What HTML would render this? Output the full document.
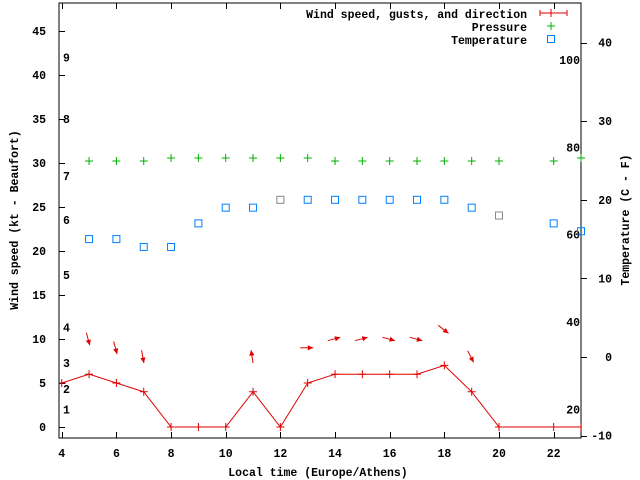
<!DOCTYPE html>
<html><head><meta charset="utf-8"><style>
html,body{margin:0;padding:0;background:#fff}
svg{display:block;font-family:"Liberation Mono",monospace;font-weight:bold;font-size:11.5px}
</style></head><body>
<svg id="chart" width="640" height="480" viewBox="0 0 640 480" xmlns="http://www.w3.org/2000/svg">
<rect x="0" y="0" width="640" height="480" fill="#fff"/>
<g id="grid"></g>
<g id="series"></g>
<text x="318" y="476" text-anchor="middle">Local time (Europe/Athens)</text>
<text transform="translate(18,220) rotate(-90)" text-anchor="middle">Wind speed (kt - Beaufort)</text>
<text transform="translate(629,220) rotate(-90)" text-anchor="middle">Temperature (C - F)</text>
<g>
<text x="527" y="18" text-anchor="end">Wind speed, gusts, and direction</text>
<g stroke="#e00000"><line x1="540" y1="13" x2="567" y2="13"/><line x1="540" y1="10" x2="540" y2="16"/><line x1="567" y1="10" x2="567" y2="16"/><line x1="551" y1="9" x2="551" y2="17"/></g>
<text x="527" y="31" text-anchor="end">Pressure</text>
<g stroke="#00b000"><line x1="547" y1="26" x2="555" y2="26"/><line x1="551" y1="22" x2="551" y2="30"/></g>
<text x="527" y="44" text-anchor="end">Temperature</text>
<rect x="547.5" y="35.5" width="7" height="7" fill="none" stroke="#0080ff"/>
</g>
</svg>
<script>
const hours=[4,5,6,7,8,9,10,11,12,13,14,15,16,17,18,19,20,22,23];
const windKt=[5,6,5,4,0,0,0,4,0,5,6,6,6,6,7,4,0,0,0];
const pressureHours=[5,6,7,8,9,10,11,12,13,14,15,16,17,18,19,20,22,23];
const pressureHpa=[1013,1013,1013,1014,1014,1014,1014,1014,1014,1013,1013,1013,1013,1013,1013,1013,1013,1014];
const tempHours=[5,6,7,8,9,10,11,12,13,14,15,16,17,18,19,20,22,23];
const tempC=[15,15,14,14,17,19,19,20,20,20,20,20,20,20,19,18,17,16];
const arrowHours=[5,6,7,11,13,14,15,16,17,18,19];
const arrowLevel=[10,9,8,8,9,10,10,10,10,11.1,8];
const arrowFromDeg=[345,345,350,171,270,255,255,285,285,308,333];
const xTicks=[4,6,8,10,12,14,16,18,20,22];
const yTicks=[0,5,10,15,20,25,30,35,40,45];
const cTicks=[-10,0,10,20,30,40];
const fTicks=[20,40,60,80,100];
const bftLabels=[1,2,3,4,5,6,7,8,9];
const bftKt=[2,4.3,7.3,11.3,17.3,23.5,28.5,35,42];

const L=59,R=581,T=3,B=438;
const X=h=>L+(h-3.9)*27.33;
const Y=k=>427-k*8.8;
const YC=c=>357-c*7.86;
const YF=f=>YC((f-32)*5/9);
const YP=p=>161-(p-1013)*3;
const NS="http://www.w3.org/2000/svg";
const grid=document.getElementById('grid'), ser=document.getElementById('series');
function mk(tag,attrs,parent,text){const e=document.createElementNS(NS,tag);for(const k in attrs)e.setAttribute(k,attrs[k]);if(text!==undefined)e.textContent=text;parent.appendChild(e);return e;}

const frame=mk('rect',{x:L,y:T,width:R-L,height:B-T,fill:'none',stroke:'#000'},grid);


xTicks.forEach(h=>{
  const x=Math.round(X(h))+0.5;
  const t=mk('path',{d:`M${x} ${B}V${B-6}M${x} ${T}V${T+6}`,stroke:'#000'},grid);
  
  
  const lb=mk('text',{x:X(h),y:B+19,'text-anchor':'middle'},grid,String(h));
  
  
});
yTicks.forEach(v=>{
  const y=Math.round(Y(v))+0.5;
  const t=mk('path',{d:`M${L} ${y}H${L+6}`,stroke:'#000'},grid);
  
  
  const lb=mk('text',{x:46,y:Y(v)+4,'text-anchor':'end'},grid,String(v));
  
  
});
cTicks.forEach(v=>{
  const y=Math.round(YC(v))+0.5;
  const t=mk('path',{d:`M${R} ${y}H${R+6}`,stroke:'#000'},grid);
  
  
  const lb=mk('text',{x:612,y:YC(v)+4,'text-anchor':'end'},grid,String(v));
  
  
});
fTicks.forEach(v=>{
  const lb=mk('text',{x:580,y:YF(v)+4,'text-anchor':'end'},grid,String(v));
  
  
});
bftLabels.forEach((b,i)=>{
  const lb=mk('text',{x:63,y:Y(bftKt[i])+4},grid,String(b));
  
  
});

// pressure
pressureHours.forEach((h,i)=>{
  const x=X(h),y=YP(pressureHpa[i]);
  const p=mk('path',{d:`M${x-4} ${y}H${x+4}M${x} ${y-4}V${y+4}`,stroke:'#00b000'},ser);
  
  
});
// temperature
tempHours.forEach((h,i)=>{
  const r=mk('rect',{x:X(h)-3.5,y:YC(tempC[i])-3.5,width:7,height:7,fill:'none',stroke:(h===12||h===20)?'#888':'#0080ff'},ser);
  
  
});
// wind line
const cp=mk('clipPath',{id:'clip'},ser);mk('rect',{x:L,y:T,width:R-L,height:B-T},cp);
const wl=mk('polyline',{points:hours.map((h,i)=>X(h)+','+Y(windKt[i])).join(' '),fill:'none',stroke:'#e00000','clip-path':'url(#clip)'},ser);


hours.forEach((h,i)=>{
  if(X(h)<L+2)return;
  const x=X(h),y=Y(windKt[i]);
  const m=mk('path',{d:`M${x-4} ${y}H${x+4}M${x} ${y-4}V${y+4}`,stroke:'#e00000','clip-path':'url(#clip)'},ser);
  
  
});
// direction arrows
arrowHours.forEach((h,i)=>{
  const cx=X(h)-1,cy=Y(arrowLevel[i]);
  const b=(arrowFromDeg[i]+180)*Math.PI/180;
  const dx=Math.sin(b),dy=-Math.cos(b),len=13;
  const x1=cx-dx*len/2,y1=cy-dy*len/2,x2=cx+dx*len/2,y2=cy+dy*len/2;
  const a1=b+Math.PI-0.45,a2=b+Math.PI+0.45;
  const g=mk('g',{},ser);
  
  
  mk('line',{x1,y1,x2,y2,stroke:'#e00000'},g);
  mk('polygon',{points:`${x2},${y2} ${x2+Math.sin(a1)*6},${y2-Math.cos(a1)*6} ${x2+Math.sin(a2)*6},${y2-Math.cos(a2)*6}`,fill:'#e00000'},g);
});
</script>
</body></html>
